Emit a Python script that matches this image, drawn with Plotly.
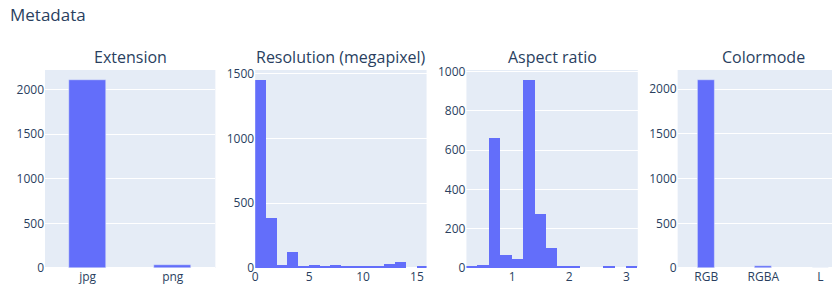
import plotly.graph_objects as go

# ---- data ----
ext_categories = ["jpg", "png"]
ext_counts = [2110, 30]

res_bin_centers = [0.5, 1.5, 2.5, 3.5, 4.5, 5.5, 6.5, 7.5, 8.5, 9.5, 10.5, 11.5, 12.5, 13.5, 14.5, 15.5]
res_counts = [1451, 389, 27, 121, 11, 27, 13, 27, 19, 11, 11, 11, 34, 43, 0, 12]

aspect_bin_centers = [0.3, 0.5, 0.7, 0.9, 1.1, 1.3, 1.5, 1.7, 1.9, 2.1, 2.3, 2.5, 2.7, 2.9, 3.1]
aspect_counts = [9, 17, 660, 65, 44, 957, 275, 101, 12, 12, 0, 0, 8, 0, 8]

cmode_categories = ["RGB", "RGBA", "L"]
cmode_counts = [2105, 20, 4]

subplot_titles = ["Extension", "Resolution (megapixel)", "Aspect ratio", "Colormode"]

# ---- layout geometry (figure pixel coords; page adds an 8px body margin) ----
W, H = 850, 300
L_M, R_M, T_M, B_M = 34, 9, 62, 40
pw = W - L_M - R_M

def px2paper(x):
    return (x - L_M) / pw

col_px = [(34, 205), (245, 417), (457, 629), (669, 841)]
domains = [[px2paper(a), px2paper(b)] for a, b in col_px]
title_centers = [(a + b) / 2 for a, b in col_px]

color = "#636efa"
line = dict(color="#E5ECF6", width=0.5)

fig = go.Figure()
fig.add_trace(go.Bar(x=ext_categories, y=ext_counts, width=0.43, marker=dict(color=color, line=line),
                     xaxis="x", yaxis="y", showlegend=False))
fig.add_trace(go.Bar(x=res_bin_centers, y=res_counts, width=1.0, marker=dict(color=color, line=dict(width=0)),
                     xaxis="x2", yaxis="y2", showlegend=False))
fig.add_trace(go.Bar(x=aspect_bin_centers, y=aspect_counts, width=0.2, marker=dict(color=color, line=dict(width=0)),
                     xaxis="x3", yaxis="y3", showlegend=False))
fig.add_trace(go.Bar(x=cmode_categories, y=cmode_counts, width=0.29, marker=dict(color=color, line=line),
                     xaxis="x4", yaxis="y4", showlegend=False))

ann = []
for t, cx in zip(subplot_titles, title_centers):
    ann.append(dict(text=t, x=px2paper(cx), y=1.0, xref="paper", yref="paper",
                    xanchor="center", yanchor="bottom", yshift=0, showarrow=False,
                    font=dict(size=16)))

fig.update_layout(
    template="plotly",
    width=W, height=H,
    margin=dict(l=L_M, r=R_M, t=T_M, b=B_M),
    font=dict(family="Open Sans, verdana, arial, sans-serif"),
    title=dict(text="Metadata", x=2 / W, xanchor="left", xref="container",
               y=1 - 7 / H, yanchor="middle", yref="container", font=dict(size=17)),
    bargap=0,
    annotations=ann,
    xaxis=dict(domain=domains[0], anchor="y", range=[-0.5, 1.5], showgrid=False),
    xaxis2=dict(domain=domains[1], anchor="y2", range=[0, 15.9], showgrid=False, zeroline=False,
                tickvals=[0, 5, 10, 15]),
    xaxis3=dict(domain=domains[2], anchor="y3", range=[0.2, 3.2], showgrid=False, zeroline=False,
                tickvals=[1, 2, 3]),
    xaxis4=dict(domain=domains[3], anchor="y4", range=[-0.5, 2.5], showgrid=False),
    yaxis=dict(domain=[0, 1], anchor="x"),
    yaxis2=dict(domain=[0, 1], anchor="x2"),
    yaxis3=dict(domain=[0, 1], anchor="x3"),
    yaxis4=dict(domain=[0, 1], anchor="x4"),
)

fig.write_html("out.html")
